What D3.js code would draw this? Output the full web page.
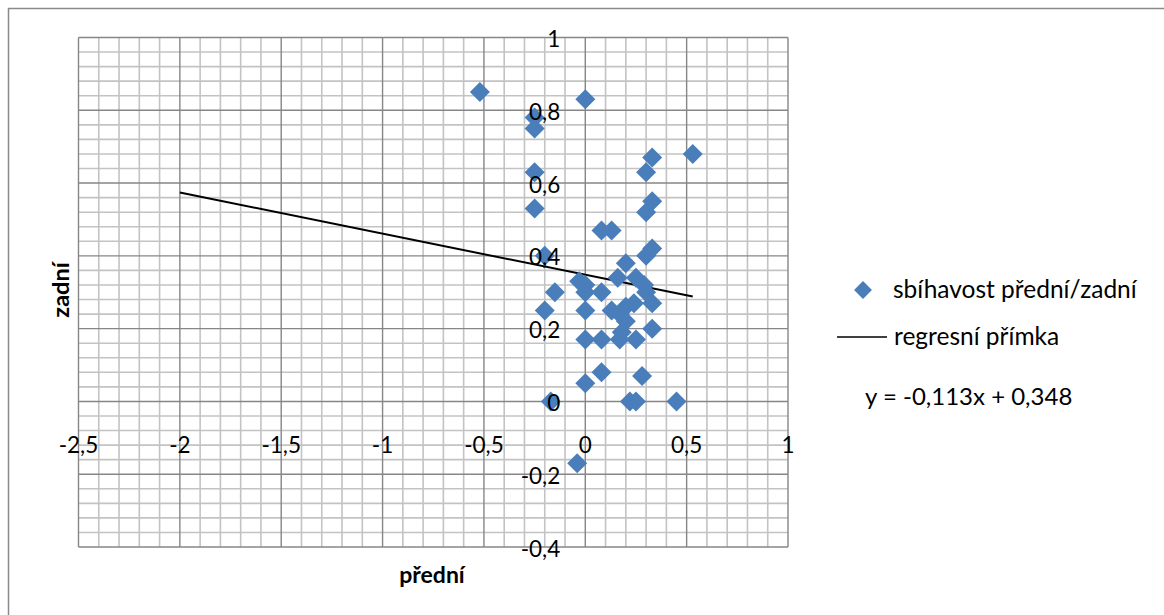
<!DOCTYPE html>
<html>
<head>
<meta charset="utf-8">
<script src="https://cdn.jsdelivr.net/npm/d3@7/dist/d3.min.js"></script>
<style>
  html, body { margin: 0; padding: 0; background: #fff; }
  svg { display: block; }
  text { font-family: Lato, "Open Sans", sans-serif; fill: #000; }
</style>
</head>
<body>
<svg id="chart" width="1164" height="615"></svg>
<script>
// sbíhavost – přední (x) vs. zadní (y)
const predni = [
  -0.52, 0.00, -0.25, -0.25, -0.25, -0.25, 0.33, 0.30, 0.53, 0.33,
  0.30, 0.08, 0.13, -0.20, 0.33, 0.30, 0.20, -0.03, 0.00, 0.16,
  0.25, 0.29, -0.15, 0.00, 0.08, 0.30, 0.33, 0.24, 0.20, 0.13,
  0.17, -0.20, 0.00, 0.20, 0.18, 0.33, 0.00, 0.08, 0.17, 0.25,
  0.08, 0.00, 0.28, -0.17, 0.22, 0.25, 0.45, -0.04
];
const zadni = [
  0.85, 0.83, 0.78, 0.75, 0.63, 0.53, 0.67, 0.63, 0.68, 0.55,
  0.52, 0.47, 0.47, 0.40, 0.42, 0.40, 0.38, 0.33, 0.32, 0.34,
  0.34, 0.32, 0.30, 0.30, 0.30, 0.30, 0.27, 0.27, 0.26, 0.25,
  0.24, 0.25, 0.25, 0.22, 0.19, 0.20, 0.17, 0.17, 0.17, 0.17,
  0.08, 0.05, 0.07, 0.00, 0.00, 0.00, 0.00, -0.17
];

// regression line y = a·x + b
const slope = -0.113;
const intercept = 0.348;
const lineStartX = -2;

const xTicks = [-2.5, -2, -1.5, -1, -0.5, 0, 0.5, 1];
const yTicks = [-0.4, -0.2, 0, 0.2, 0.4, 0.6, 0.8, 1];

const seriesName = "sbíhavost přední/zadní";
const lineName = "regresní přímka";
const equationText = "y = -0,113x + 0,348";
const xTitle = "přední";
const yTitle = "zadní";

const svg = d3.select("#chart");
const W = 1164, H = 615;

const plot = { left: 78.5, right: 788, top: 37.5, bottom: 547 };
const x = d3.scaleLinear().domain([xTicks[0], xTicks[xTicks.length - 1]]).range([plot.left, plot.right]);
const y = d3.scaleLinear().domain([yTicks[0], yTicks[yTicks.length - 1]]).range([plot.bottom, plot.top]);

const blue = "#4a7ebb";
const majorColor = "#868686";
const minorColor = "#c3c3c3";

// outer chart frame
svg.append("rect")
  .attr("x", 8.5).attr("y", 8.5)
  .attr("width", W + 20).attr("height", H + 20)
  .attr("fill", "#fff").attr("stroke", "#8a8a8a").attr("stroke-width", 1.5);

// minor gridlines: five subdivisions per major step
const sub = (ticks) => {
  const out = [];
  for (let i = 0; i < ticks.length - 1; i++) {
    const step = (ticks[i + 1] - ticks[i]) / 5;
    for (let k = 1; k < 5; k++) out.push(ticks[i] + k * step);
  }
  return out;
};

const grid = svg.append("g");
grid.selectAll("line.mx").data(sub(xTicks)).join("line")
  .attr("x1", d => x(d)).attr("x2", d => x(d))
  .attr("y1", plot.top).attr("y2", plot.bottom)
  .attr("stroke", minorColor).attr("stroke-width", 1.6);
grid.selectAll("line.my").data(sub(yTicks)).join("line")
  .attr("y1", d => y(d)).attr("y2", d => y(d))
  .attr("x1", plot.left).attr("x2", plot.right)
  .attr("stroke", minorColor).attr("stroke-width", 1.6);
grid.selectAll("line.Mx").data(xTicks).join("line")
  .attr("x1", d => x(d)).attr("x2", d => x(d))
  .attr("y1", plot.top).attr("y2", plot.bottom)
  .attr("stroke", majorColor).attr("stroke-width", 1.4);
grid.selectAll("line.My").data(yTicks).join("line")
  .attr("y1", d => y(d)).attr("y2", d => y(d))
  .attr("x1", plot.left).attr("x2", plot.right)
  .attr("stroke", majorColor).attr("stroke-width", 1.4);

// regression line
const xMax = d3.max(predni);
const reg = d3.line().x(d => x(d)).y(d => y(slope * d + intercept));
svg.append("path")
  .datum([lineStartX, xMax])
  .attr("d", reg)
  .attr("fill", "none").attr("stroke", "#000").attr("stroke-width", 2);

// data points as diamonds
svg.append("g").selectAll("path").data(predni.map((v, i) => [v, zadni[i]])).join("path")
  .attr("transform", d => `translate(${x(d[0])},${y(d[1])}) rotate(45)`)
  .attr("d", d3.symbol().type(d3.symbolSquare).size(200))
  .attr("fill", blue);

// tick labels with decimal comma, drawn above the markers
const fmt = v => String(Math.round(v * 10) / 10).replace(".", ",");

svg.append("g").selectAll("text").data(xTicks).join("text")
  .attr("x", d => x(d)).attr("y", y(0) + 52)
  .attr("text-anchor", "middle")
  .attr("font-size", 22.5)
  .text(fmt);

svg.append("g").selectAll("text").data(yTicks).join("text")
  .attr("x", x(0) - 25).attr("y", d => y(d) + 9.5)
  .attr("text-anchor", "end")
  .attr("font-size", 22.5)
  .text(fmt);

// axis titles
svg.append("text")
  .attr("x", 432).attr("y", 583)
  .attr("text-anchor", "middle").attr("font-weight", "bold").attr("font-size", 23)
  .text(xTitle);
svg.append("text")
  .attr("transform", "translate(69,290) rotate(-90)")
  .attr("text-anchor", "middle").attr("font-weight", "bold").attr("font-size", 23.5)
  .text(yTitle);

// legend
const lg = svg.append("g");
lg.append("path")
  .attr("transform", "translate(863,290) rotate(45)")
  .attr("d", d3.symbol().type(d3.symbolSquare).size(160))
  .attr("fill", blue);
lg.append("text").attr("x", 893).attr("y", 297.5).attr("font-size", 24.5).text(seriesName);
lg.append("line")
  .attr("x1", 837).attr("x2", 887).attr("y1", 337).attr("y2", 337)
  .attr("stroke", "#000").attr("stroke-width", 1.5);
lg.append("text").attr("x", 894).attr("y", 345).attr("font-size", 24.5).text(lineName);
lg.append("text").attr("x", 865).attr("y", 405).attr("font-size", 24)
  .text(equationText);
</script>
</body>
</html>
